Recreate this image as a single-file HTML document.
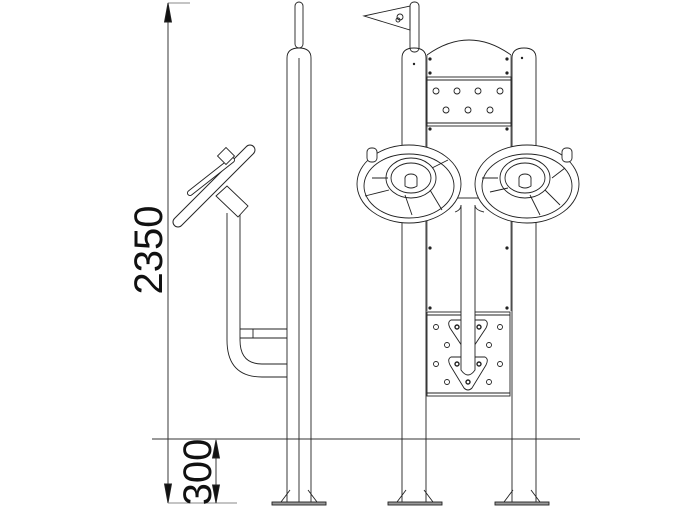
<!DOCTYPE html>
<html><head><meta charset="utf-8"><style>html,body{margin:0;padding:0;background:#fff}svg{display:block}</style></head>
<body>
<svg width="700" height="525" viewBox="0 0 700 525" xmlns="http://www.w3.org/2000/svg" fill="none" stroke="#222" stroke-width="0.9">
<!-- dimension lines -->
<line x1="168" y1="3" x2="168" y2="503"/>
<line x1="168" y1="3" x2="190" y2="3" stroke="#888"/>
<polygon points="168,3 164.5,22 171.5,22" fill="#111"/>
<polygon points="168,503 164.5,484 171.5,484" fill="#111"/>
<line x1="168" y1="503" x2="237" y2="503" stroke="#888"/>
<line x1="216" y1="440" x2="216" y2="503"/>
<polygon points="216,440 212.5,458 219.5,458" fill="#111"/>
<polygon points="216,503 212.5,485 219.5,485" fill="#111"/>
<text x="0" y="0" transform="translate(162,250) rotate(-90)" font-family="Liberation Sans, sans-serif" font-size="40" fill="#111" stroke="none" text-anchor="middle">2350</text>
<text x="0" y="0" transform="translate(211,472) rotate(-90)" font-family="Liberation Sans, sans-serif" font-size="40" fill="#111" stroke="none" text-anchor="middle">300</text>
<!-- ground -->
<line x1="152" y1="439" x2="580" y2="439" stroke="#333"/>

<!-- left post -->
<rect x="295" y="2" width="8" height="46" rx="4"/>
<path d="M287 58 Q287 48 299 48 Q311 48 311 58"/>
<line x1="287" y1="58" x2="287" y2="502"/>
<line x1="311" y1="58" x2="311" y2="502"/>
<line x1="299" y1="58" x2="299" y2="504"/>
<rect x="272" y="502" width="54" height="3" fill="#999"/>
<path d="M281 502 L290 490 M317 502 L308 490"/>
<!-- handle arm -->
<path d="M227 213 L227 340 Q227 377 262 377 L287 377"/>
<path d="M240 213 L240 340 Q240 364 262 364 L287 364"/>
<line x1="240" y1="329" x2="287" y2="329"/>
<line x1="240" y1="338" x2="287" y2="338"/>
<line x1="253" y1="329" x2="253" y2="338"/>
<path d="M216 196 L227 186 L248 206 L238 217 Z" fill="#fff"/>
<path d="M178 222 L250 150" stroke-width="11" stroke-linecap="round" stroke="#222"/>
<path d="M178 222 L250 150" stroke-width="9" stroke-linecap="round" stroke="#fff"/>
<path d="M190 193 L232 160" stroke-width="6" stroke-linecap="round" stroke="#222"/>
<path d="M190 193 L232 160" stroke-width="4.2" stroke-linecap="round" stroke="#fff"/>
<rect x="220" y="150" width="12" height="12" transform="rotate(-45 226 156)" fill="#fff"/>

<!-- right structure posts -->
<rect x="410" y="2" width="9" height="50" rx="4" fill="#fff"/>
<path d="M364 16 L410 6 L410 30 Z"/>
<circle cx="400" cy="17" r="3"/><circle cx="398" cy="20" r="2"/>
<path d="M402 502 L402 58 Q402 48 414 48 Q426 48 426 58 L426 502"/>
<path d="M512 502 L512 58 Q512 48 524 48 Q536 48 536 58 L536 502"/>
<rect x="388" y="502" width="54" height="3" fill="#999"/>
<path d="M397 502 L406 490 M433 502 L424 490"/>
<rect x="495" y="502" width="54" height="3" fill="#999"/>
<path d="M504 502 L513 490 M540 502 L531 490"/>
<!-- panel -->
<path d="M427 55 Q469 25 511 55"/>
<line x1="427" y1="55" x2="427" y2="311" stroke="#555"/>
<line x1="511" y1="55" x2="511" y2="311" stroke="#555"/>
<rect x="427" y="77" width="84" height="49"/>
<line x1="427" y1="80" x2="511" y2="80"/><line x1="427" y1="123" x2="511" y2="123"/>
<g fill="#222" stroke="none">
<circle cx="430" cy="59" r="1.6"/><circle cx="507" cy="59" r="1.6"/><circle cx="430" cy="73" r="1.6"/><circle cx="507" cy="73" r="1.6"/>
<circle cx="430" cy="129" r="1.6"/><circle cx="507" cy="129" r="1.6"/><circle cx="414" cy="64" r="1.2"/><circle cx="522" cy="58" r="1.2"/>
<circle cx="430" cy="308" r="1.6"/><circle cx="507" cy="308" r="1.6"/><circle cx="430" cy="248" r="1.6"/><circle cx="507" cy="248" r="1.6"/>
</g>
<g>
<circle cx="436" cy="91" r="3"/><circle cx="457" cy="91" r="3"/><circle cx="478" cy="91" r="3"/><circle cx="500" cy="91" r="3"/>
<circle cx="446" cy="110" r="3"/><circle cx="468" cy="110" r="3"/><circle cx="490" cy="110" r="3"/>
</g>
<!-- bottom panel -->
<rect x="427" y="312" width="83" height="84"/>
<line x1="427" y1="315" x2="510" y2="315"/><line x1="427" y1="393" x2="510" y2="393"/>
<path d="M451 320 Q447 322 450 328 L462 346 L474 346 L486 328 Q489 322 485 320 Z" fill="#fff"/>
<path d="M451 357 Q447 359 450 365 L464 388 Q468 392 472 388 L486 365 Q489 359 485 357 Z" fill="#fff"/>
<path d="M461 205 L461 370 Q468 380 475 370 L475 205" fill="#fff"/>
<g>
<circle cx="436" cy="327" r="2.5"/><circle cx="500" cy="327" r="2.5"/><circle cx="447" cy="345" r="2.5"/><circle cx="489" cy="345" r="2.5"/>
<circle cx="436" cy="364" r="2.5"/><circle cx="500" cy="364" r="2.5"/><circle cx="447" cy="382" r="2.5"/><circle cx="489" cy="382" r="2.5"/>
<circle cx="457" cy="327" r="2" stroke-width="1.4"/><circle cx="479" cy="327" r="2" stroke-width="1.4"/>
<circle cx="457" cy="364" r="2" stroke-width="1.4"/><circle cx="479" cy="364" r="2" stroke-width="1.4"/><circle cx="468" cy="382" r="2" stroke-width="1.4"/>
</g>
<!-- T bar -->
<path d="M455 198 L484 198 M461 205 Q461 210 455 212 M475 205 Q475 210 484 212" stroke="#333"/>
<!-- wheels -->
<g fill="#fff">
<ellipse cx="409" cy="184" rx="52" ry="39"/>
<ellipse cx="409" cy="186" rx="45" ry="32"/>
<ellipse cx="411" cy="178" rx="25" ry="20"/>
<ellipse cx="411" cy="178" rx="20" ry="15"/>
<path d="M372 178 L388 178 M365 196 L389 190 M432 168 L448 160 M430 190 L442 210 M405 195 L412 215" />
<ellipse cx="411" cy="178" rx="6" ry="4"/>
<path d="M405 178 L405 186 Q411 190 417 186 L417 178"/>
<rect x="367" y="148" width="10" height="14" rx="4"/>
<ellipse cx="527" cy="184" rx="52" ry="39"/>
<ellipse cx="527" cy="186" rx="45" ry="32"/>
<ellipse cx="525" cy="178" rx="25" ry="20"/>
<ellipse cx="525" cy="178" rx="20" ry="15"/>
<path d="M482 178 L498 178 M552 178 L565 168 M490 192 L508 188 M530 195 L540 215 M545 190 L560 205"/>
<ellipse cx="525" cy="178" rx="6" ry="4"/>
<path d="M519 178 L519 186 Q525 190 531 186 L531 178"/>
<rect x="562" y="148" width="10" height="14" rx="4"/>
</g>
</svg>
</body></html>
